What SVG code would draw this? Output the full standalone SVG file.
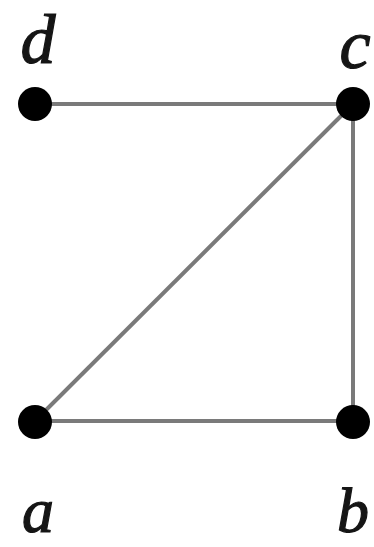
<svg xmlns="http://www.w3.org/2000/svg" width="374" height="547" viewBox="0 0 374 547">
<style>
.edge{stroke:#7a7a7a;stroke-width:4;fill:none}
.dot{fill:#000}
.lbl{font-family:"Liberation Serif","Times New Roman",serif;font-style:italic;font-size:70px;fill:#151515;text-anchor:middle;stroke:#151515;stroke-width:1.2}
.lblb{font-size:64px}
</style>
<rect width="374" height="547" fill="#fff"/>
<g id="connectors">
<line class="edge" x1="35" y1="104" x2="353" y2="104"/>
<line class="edge" x1="35" y1="421" x2="353" y2="104"/>
<line class="edge" x1="353" y1="104" x2="353" y2="421"/>
<line class="edge" x1="35" y1="421" x2="353" y2="421"/>
</g>
<g id="node-d"><circle class="dot" cx="35" cy="104" r="17"/><text class="lbl" x="38" y="63">d</text></g>
<g id="node-c"><circle class="dot" cx="353" cy="104" r="17"/><text class="lbl" x="355" y="68">c</text></g>
<g id="node-a"><circle class="dot" cx="35" cy="422" r="17"/><text class="lbl lblb" x="38" y="532">a</text></g>
<g id="node-b"><circle class="dot" cx="353" cy="422" r="17"/><text class="lbl lblb" x="353" y="532">b</text></g>
</svg>
